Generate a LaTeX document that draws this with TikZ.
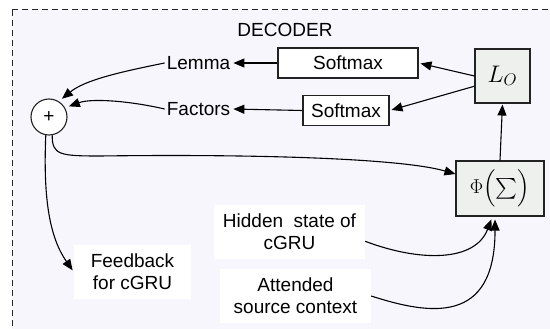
\RequirePackage{fix-cm}
\documentclass[tikz,border=0pt]{standalone}
\usepackage{exscale}
\usepackage{fontspec}
\setmainfont{Liberation Sans}
\usetikzlibrary{arrows.meta}
\definecolor{bglav}{RGB}{248,246,253}
\definecolor{boxgray}{RGB}{238,240,238}
\definecolor{edgec}{RGB}{34,34,34}
\begin{document}
\begin{tikzpicture}[x=1pt,y=-1pt,
  every node/.style={font=\fontsize{19}{22}\selectfont},
  conn/.style={draw=black,line width=1.1pt,-{Triangle[length=11pt,width=9pt]}},
  sbox/.style={draw=edgec,line width=1.1pt,fill=white,minimum height=30pt,inner sep=0pt},
  gbox/.style={draw=edgec,line width=1.1pt,fill=boxgray,inner sep=0pt},
  wbox/.style={fill=white,align=center,minimum height=54pt,inner sep=0pt},
  lbl/.style={inner sep=2pt}]
\useasboundingbox (0,0) rectangle (550,329);
\clip (0,0) rectangle (550,329);
\fill[white] (0,0) rectangle (550,329);
\draw[fill=bglav,draw=black!85,line width=1pt,dash pattern=on 6pt off 4pt] (12,10) rectangle (570,350);
\node (dec) at (285,30) {DECODER};
\node[sbox,minimum width=140pt] (sm1) at (348,63) {Softmax};
\node[sbox,minimum width=86pt] (sm2) at (346,110.5) {Softmax};
\node[lbl] (lemma) at (198.5,63) {Lemma};
\node[lbl] (fact) at (198.5,109) {Factors};
\node[gbox,minimum width=55pt,minimum height=54pt] (lo) at (502.5,76) {\fontsize{24}{28}\selectfont$L_O$};
\node[gbox,minimum width=88pt,minimum height=55pt] (phi) at (500,188.5) {\fontsize{20}{24}\selectfont$\Phi\Bigl(\sum\Bigr)$};
\node[circle,draw=edgec,line width=1.1pt,fill=white,minimum size=36pt,inner sep=0pt] (plus) at (49,117) {+};
\node[wbox,minimum width=151pt] (hid) at (289.5,232) {Hidden\ \ state of\\cGRU};
\node[wbox,minimum width=151pt] (att) at (295.5,296) {Attended\\source context};
\node[wbox,minimum width=117pt] (fb) at (132.5,272) {Feedback\\for cGRU};
\draw[conn,shorten >=1pt] (sm1.west) -- (lemma.east);
\draw[conn,shorten >=1pt] (sm2.west) -- (fact.east);
\draw[conn,shorten >=2pt] (lo.west) -- (sm1.east);
\draw[conn,shorten >=2pt] (lo.200) -- (sm2.east);
\draw[conn,shorten >=1pt] (phi.north) -- (lo.south);
\draw[conn,shorten >=4pt] (lemma.west) .. controls (120,72) and (85,80) .. (plus.58);
\draw[conn,shorten >=4pt] (fact.west) .. controls (130,101) and (92,98) .. (plus.30);
\draw[conn] (plus.-80) .. controls (52,155) and (60,156) .. (100,156) .. controls (250,154) and (400,158) .. (phi.162);
\draw[conn,shorten >=2pt] (plus.-100) .. controls (43,200) and (50,238) .. (fb.west);
\draw[conn,shorten >=3pt] (hid.-7.5) .. controls (420,262) and (475,262) .. (phi.255);
\draw[conn,shorten >=3pt] (att.east) .. controls (430,315) and (495,325) .. (phi.260);
\end{tikzpicture}
\end{document}
